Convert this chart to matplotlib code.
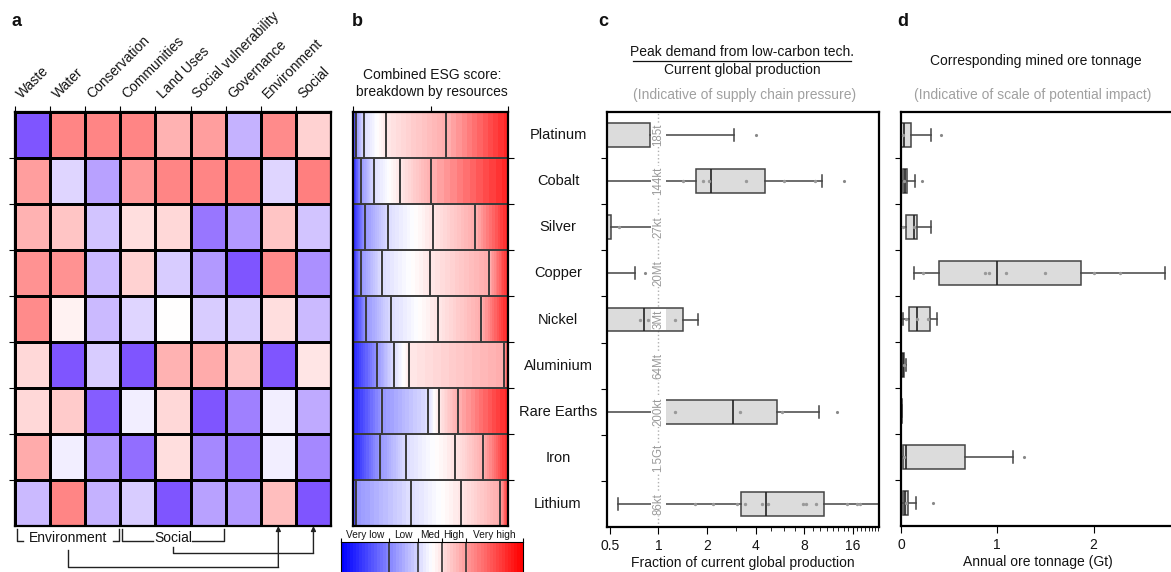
import numpy as np
import matplotlib.pyplot as plt
from matplotlib.colors import LinearSegmentedColormap
from matplotlib.patches import Rectangle
from matplotlib.lines import Line2D
from matplotlib.ticker import FixedLocator

plt.rcParams['font.family'] = ['Liberation Sans', 'DejaVu Sans']
plt.rcParams['font.size'] = 10

# ---- data ----
criteria = ['Waste', 'Water', 'Conservation', 'Communities', 'Land Uses',
            'Social vulnerability', 'Governance', 'Environment', 'Social']
resources = ['Platinum', 'Cobalt', 'Silver', 'Copper', 'Nickel',
             'Aluminium', 'Rare Earths', 'Iron', 'Lithium']
production = ['185t', '144kt', '27kt', '20Mt', '3Mt', '64Mt', '200kt', '1.5Gt', '86kt']

# panel a: relative score per resource (rows) and criterion (cols), -1 low .. 1 high
scores = np.array([
    [-1.0, 0.95, 0.95, 0.95, 0.60, 0.75, -0.45, 0.90, 0.35],
    [0.75, -0.25, -0.55, 0.80, 0.95, 0.95, 1.00, -0.25, 1.00],
    [0.60, 0.45, -0.35, 0.25, 0.30, -0.80, -0.60, 0.45, -0.35],
    [0.85, 0.85, -0.40, 0.35, -0.30, -0.60, -1.00, 0.90, -0.65],
    [0.90, 0.10, -0.40, -0.25, 0.00, -0.30, -0.30, 0.25, -0.40],
    [0.30, -1.00, -0.30, -1.00, 0.60, 0.65, 0.45, -1.00, 0.20],
    [0.30, 0.40, -0.95, -0.10, 0.30, -1.00, -0.75, -0.10, -0.50],
    [0.65, -0.10, -0.60, -0.85, 0.25, -0.70, -0.80, -0.10, -0.70],
    [-0.40, 0.95, -0.45, -0.30, -1.00, -0.55, -0.60, 0.50, -1.00],
])

# panel b: cumulative share boundaries (Very low|Low|Med|High|Very high)
breakdown = [
    [0.022, 0.069, 0.212, 0.600],
    [0.050, 0.136, 0.302, 0.503],
    [0.076, 0.227, 0.514, 0.784],
    [0.050, 0.184, 0.497, 0.875],
    [0.082, 0.245, 0.548, 0.827],
    [0.156, 0.264, 0.364, 0.974],
    [0.190, 0.487, 0.556, 0.677],
    [0.173, 0.342, 0.656, 0.838],
    [0.022, 0.372, 0.697, 0.948],
]
esg_levels = ['Very low', 'Low', 'Med', 'High', 'Very high']
esg_bounds = [0, 0.264, 0.423, 0.555, 0.687, 1.0]

# panel c: peak demand / current production
c_whislo = [0.2, 0.35, 0.2, 0.1, 0.3, 0.02, 0.3, 0.01, 0.56]
c_q1 = [0.3, 1.71, 0.3, 0.2, 0.4, 0.05, 1.07, 0.03, 3.25]
c_med = [0.45, 2.11, 0.4, 0.3, 0.81, 0.08, 2.89, 0.05, 4.63]
c_q3 = [0.88, 4.56, 0.51, 0.45, 1.41, 0.15, 5.4, 0.1, 10.6]
c_whishi = [2.93, 10.3, 0.93, 0.72, 1.75, 0.3, 9.85, 0.2, 30.0]
c_fliers = [[4.0], [14.0], [], [0.82], [], [], [12.7], [], []]
c_points = [[], [1.41, 1.88, 2.05, 3.48, 5.98, 9.3], [0.57], [], [0.77, 0.86, 1.26],
            [], [1.27, 3.2, 5.8], [],
            [1.68, 2.17, 3.06, 3.43, 4.37, 4.76, 7.84, 8.18, 9.44, 14.7, 16.9, 17.7]]

# panel d: mined ore tonnage (Gt)
d_whislo = [0.0, 0.0, 0.0, 0.13, 0.02, 0.0, 0.0, 0.0, 0.0]
d_q1 = [0.0, 0.017, 0.055, 0.398, 0.079, 0.005, 0.002, 0.017, 0.017]
d_med = [0.03, 0.04, 0.131, 1.0, 0.166, 0.02, 0.004, 0.052, 0.04]
d_q3 = [0.107, 0.062, 0.166, 1.87, 0.297, 0.035, 0.006, 0.667, 0.068]
d_whishi = [0.31, 0.15, 0.31, 2.74, 0.373, 0.055, 0.01, 1.16, 0.156]
d_fliers = [[0.42], [0.22], [], [], [], [], [], [1.28], [0.328]]
d_points = [[0.02], [0.03], [0.02, 0.13], [0.23, 0.876, 0.91, 1.09, 1.49, 2.0, 2.27],
            [0.05, 0.17, 0.28], [0.03], [], [0.03], [0.05]]

W, H = 1171, 572
fig = plt.figure(figsize=(W / 100, H / 100), dpi=100)
txt = '#141414'


def px_axes(l, t, r, b):
    return fig.add_axes([l / W, 1 - b / H, (r - l) / W, (b - t) / H])


def ftext(x, y, s, **kw):
    return fig.text(x / W, 1 - y / H, s, **kw)


# ---------------- a: heatmap ----------------
ax = px_axes(15, 112, 331, 526)
heat_cmap = LinearSegmentedColormap.from_list('heat', ['#7f55ff', '#ffffff', '#ff7f7f'])
ax.pcolormesh(np.arange(10), np.arange(10), scores, cmap=heat_cmap, vmin=-1, vmax=1,
              edgecolors='black', linewidth=1.0)
ax.set_xlim(0, 9)
ax.set_ylim(9, 0)
ax.axvline(6, color='black', lw=2)
ax.xaxis.tick_top()
ax.set_xticks(range(9))
ax.set_xticklabels([])
for i, name in enumerate(criteria):
    ax.text(i + 0.27, -0.24, name, rotation=45, ha='left', va='bottom',
            rotation_mode='anchor', color=txt)
ax.tick_params(axis='x', length=4, pad=1)
ax.set_yticks(range(1, 9))
ax.set_yticklabels([])
ax.tick_params(axis='y', length=4)
for s in ax.spines.values():
    s.set_linewidth(1.6)

# group brackets and arrows under the heatmap
yb, yt = 9.33, 9.07
kw = dict(color='#222', lw=1.0, clip_on=False)
ax.plot([0.05, 0.05, 0.22], [yt, yb, yb], **kw)
ax.plot([2.78, 2.95, 2.95], [yb, yb, yt], **kw)
ax.plot([3.05, 3.05, 3.92], [yt, yb, yb], **kw)
ax.plot([5.05, 5.95, 5.95], [yb, yb, yt], **kw)
ax.text(1.5, 9.27, 'Environment', ha='center', va='center', color=txt)
ax.text(4.5, 9.27, 'Social', ha='center', va='center', color=txt)
ax.plot([1.5, 1.5, 7.5], [9.52, 9.89, 9.89], **kw)
ax.plot([4.5, 4.5, 8.5], [9.46, 9.59, 9.59], **kw)
for xc, y0 in [(7.5, 9.89), (8.5, 9.59)]:
    ax.annotate('', xy=(xc, 9.0), xytext=(xc, y0), annotation_clip=False,
                arrowprops=dict(arrowstyle='-|>', color='#222', lw=1.0, mutation_scale=7,
                                shrinkA=0, shrinkB=0))

# ---------------- b: breakdown ----------------
esg_cmap = plt.get_cmap('bwr')
axb = px_axes(353, 112, 508, 526)
for i, row in enumerate(breakdown):
    edges = [0] + row + [1]
    for k in range(5):
        grad = np.linspace(esg_bounds[k], esg_bounds[k + 1], 12)[None, :]
        axb.imshow(grad, cmap=esg_cmap, vmin=0, vmax=1, alpha=0.85, aspect='auto',
                   interpolation='nearest', extent=(edges[k], edges[k + 1], i + 1, i))
        axb.add_patch(Rectangle((edges[k], i), edges[k + 1] - edges[k], 1, fill=False,
                                ec='#3a3a3a', lw=1.2))
axb.set_xlim(0, 1)
axb.set_ylim(9, 0)
axb.xaxis.tick_top()
axb.set_xticks([0, 0.5, 1])
axb.set_xticklabels([])
axb.yaxis.tick_right()
axb.set_yticks(range(1, 9))
axb.set_yticklabels([])
axb.tick_params(length=4)
for s in axb.spines.values():
    s.set_linewidth(1.6)
ftext(432, 75, 'Combined ESG score:', ha='center', va='center', color=txt)
ftext(432, 92, 'breakdown by resources', ha='center', va='center', color=txt)

# colour bar
axcb = px_axes(341, 542, 523, 576)
axcb.imshow(np.linspace(0, 1, 60)[None, :], cmap=esg_cmap, vmin=0, vmax=1, aspect='auto',
            interpolation='nearest', extent=(0, 1, 0, 1))
for b in esg_bounds[1:-1]:
    axcb.axvline(b, color='#333', lw=1.2)
axcb.set_xlim(0, 1)
axcb.set_ylim(0, 1)
axcb.xaxis.tick_top()
axcb.set_xticks(esg_bounds)
axcb.set_xticklabels([])
axcb.set_yticks([])
axcb.tick_params(length=3)
for k, lab in enumerate(esg_levels):
    axcb.text((esg_bounds[k] + esg_bounds[k + 1]) / 2, 1.22, lab, ha='center', va='center',
              fontsize=7.3, color=txt, transform=axcb.get_xaxis_transform())

# ---------------- c: supply chain pressure ----------------
box_kw = dict(widths=0.52, orientation='horizontal', patch_artist=True,
              boxprops=dict(facecolor='#dcdcdc', edgecolor='#444', lw=1.1),
              medianprops=dict(color='#222', lw=1.2),
              whiskerprops=dict(color='#444', lw=1.1),
              capprops=dict(color='#444', lw=1.1),
              flierprops=dict(marker='.', markersize=2.5, markerfacecolor='#888',
                              markeredgecolor='#888'))
pos = np.arange(9) + 0.5

axc = px_axes(607, 112, 879, 527)
axc.set_xscale('log', base=2)
c_stats = [dict(whislo=c_whislo[i], q1=c_q1[i], med=c_med[i], q3=c_q3[i],
                whishi=c_whishi[i], fliers=c_fliers[i]) for i in range(9)]
axc.bxp(c_stats, positions=pos, **box_kw)
for i in range(9):
    axc.scatter(c_points[i], [pos[i]] * len(c_points[i]), s=2, color='#999', zorder=4)
axc.axvline(1, color='#b0b0b0', ls=':', lw=1, zorder=1)
for i in range(9):
    axc.text(1, pos[i], production[i], rotation=90, ha='center', va='center', fontsize=8.3,
             color='#9a9a9a', zorder=6, bbox=dict(fc='white', ec='none', pad=0.8))
axc.set_xlim(0.48, 23.2)
axc.set_ylim(9, 0)
axc.set_xticks([0.5, 1, 2, 4, 8, 16])
axc.set_xticklabels(['0.5', '1', '2', '4', '8', '16'], color=txt)
axc.xaxis.set_minor_locator(FixedLocator([v for v in range(3, 24) if v not in (4, 8, 16)]))
axc.xaxis.set_minor_formatter(plt.NullFormatter())
axc.tick_params(axis='x', which='major', length=5)
axc.tick_params(axis='x', which='minor', length=3)
axc.set_yticks(range(1, 9))
axc.set_yticklabels([])
axc.tick_params(axis='y', length=4)
for i, r in enumerate(resources):
    axc.text(-0.18, pos[i], r, ha='center', va='center', color=txt, fontsize=10.5,
             transform=axc.get_yaxis_transform())
axc.set_xlabel('Fraction of current global production', color=txt, labelpad=2)
for s in axc.spines.values():
    s.set_linewidth(1.6)
ftext(742, 52, 'Peak demand from low-carbon tech.', ha='center', va='center', color=txt)
fig.add_artist(Line2D([633 / W, 851 / W], [1 - 60.5 / H] * 2, color='#111', lw=0.9))
ftext(742, 70, 'Current global production', ha='center', va='center', color=txt)
ftext(745, 95, '(Indicative of supply chain pressure)', ha='center', va='center', color='#a0a0a0')

# ---------------- d: ore tonnage ----------------
axd = px_axes(901, 112, 1175, 526)
d_stats = [dict(whislo=d_whislo[i], q1=d_q1[i], med=d_med[i], q3=d_q3[i],
                whishi=d_whishi[i], fliers=d_fliers[i]) for i in range(9)]
axd.bxp(d_stats, positions=pos, **box_kw)
for i in range(9):
    axd.scatter(d_points[i], [pos[i]] * len(d_points[i]), s=2, color='#999', zorder=4)
axd.set_xlim(0, 2.845)
axd.set_ylim(9, 0)
axd.set_xticks([0, 1, 2])
axd.set_xticklabels(['0', '1', '2'], color=txt)
axd.tick_params(axis='x', length=5)
axd.set_yticks(range(1, 9))
axd.set_yticklabels([])
axd.tick_params(axis='y', length=4)
axd.set_xlabel('Annual ore tonnage (Gt)', color=txt, labelpad=2)
for s in axd.spines.values():
    s.set_linewidth(1.6)
ftext(1036, 61, 'Corresponding mined ore tonnage', ha='center', va='center', color=txt)
ftext(1033, 95, '(Indicative of scale of potential impact)', ha='center', va='center', color='#a0a0a0')

# panel letters
for x, lab in [(17, 'a'), (357, 'b'), (603, 'c'), (903, 'd')]:
    ftext(x, 22, lab, ha='center', va='center', fontsize=13, fontweight='bold', color='#111')

fig.savefig('out.png', dpi=100)
